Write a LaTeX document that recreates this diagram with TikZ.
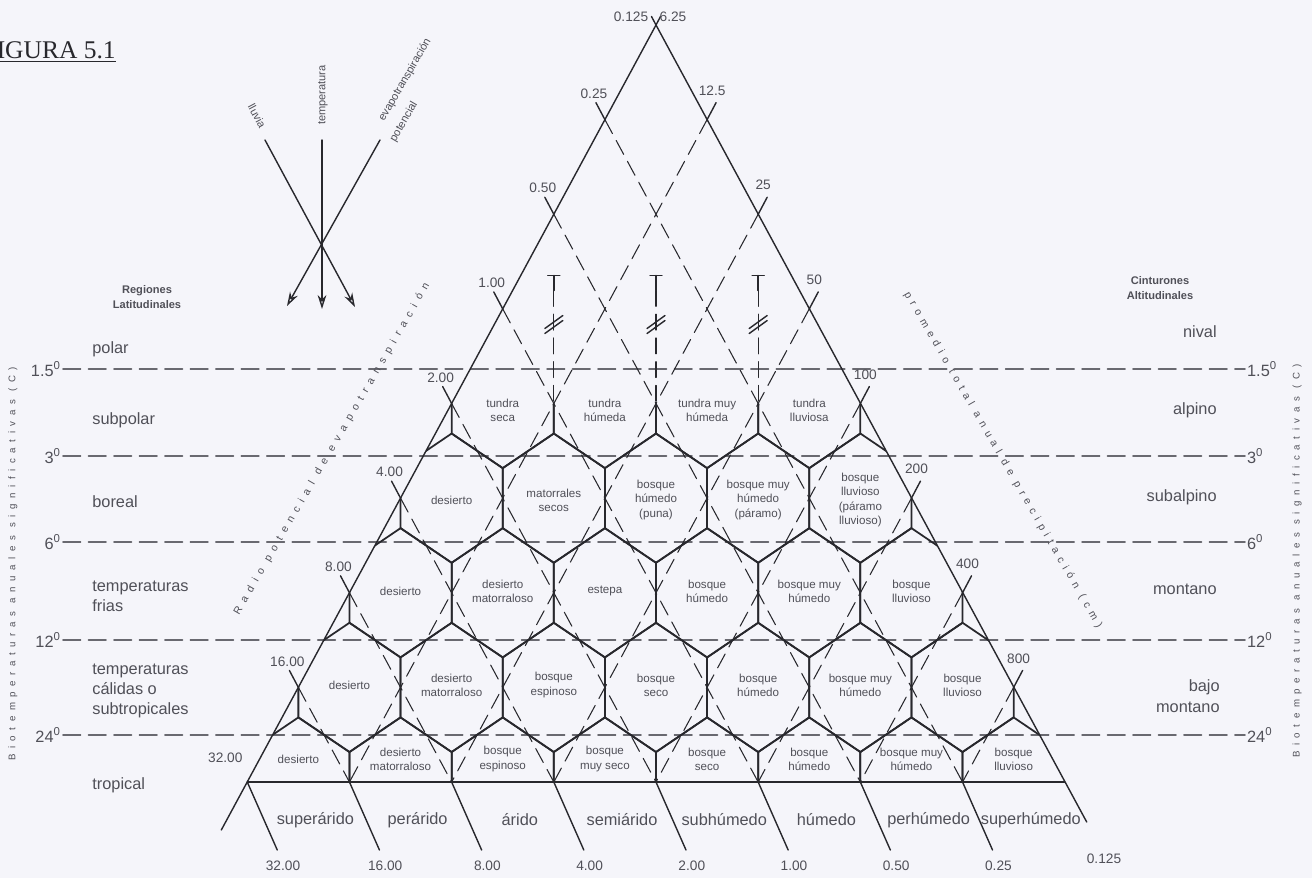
\documentclass[tikz,border=0pt]{standalone}
\usepackage{fontspec}
\setmainfont{Liberation Sans}
\newfontfamily\titlefont{Liberation Serif}
\newfontfamily\spaceda[LetterSpace=58]{Liberation Sans}
\newfontfamily\spacedb[LetterSpace=50]{Liberation Sans}
\usetikzlibrary{arrows.meta}
\definecolor{paper}{RGB}{245,245,250}
\definecolor{ink}{RGB}{40,40,45}
\definecolor{txt}{RGB}{80,80,88}
\definecolor{tgray}{RGB}{105,105,112}
\tikzset{
  sideline/.style={draw=ink, line width=0.8pt},
  hexedge/.style={draw=ink, line width=1pt},
  gridline/.style={draw=ink, line width=0.6pt, dash pattern=on 9pt off 4.5pt},
  templine/.style={draw=tgray, line width=0.9pt, dash pattern=on 10pt off 4.5pt},
  carrow/.style={draw=ink, line width=0.8pt, -{Stealth[open,length=8pt,width=5pt]}},
  zona/.style={text=txt, align=center, inner sep=0pt, font=\fontsize{6.6}{8}\selectfont},
  zonalat/.style={text=txt, align=left, inner sep=0pt, font=\fontsize{9.3}{11.6}\selectfont},
  valor/.style={text=txt, inner sep=0pt, font=\fontsize{7.8}{9}\selectfont},
  grado/.style={text=txt, inner sep=1pt, font=\fontsize{9.3}{11}\selectfont},
  cabeza/.style={text=txt, align=center, inner sep=0pt, font=\bfseries\fontsize{6.3}{8.3}\selectfont},
  brujula/.style={text=txt, inner sep=0pt, font=\fontsize{6.3}{7.5}\selectfont},
}
\begin{document}
\begin{tikzpicture}[x=0.02cm, y=-0.02cm, line join=round, line cap=round]
	\def\xa{656} \def\ya{25} % vértice superior
	\def\hw{51.09} \def\rh{94.63} % medio paso y alto de fila
	\def\hd{30} \def\he{64.63} % hexágono
	\useasboundingbox (0,0) rectangle (1312,878);
	\fill[paper] (0,0) rectangle (1312,878);
	% puntos de la retícula
	\foreach \k in {0,...,8}
		\foreach \m in {0,...,\k}
			\coordinate (p-\k-\m) at ({\xa-\k*\hw+2*\hw*\m},{\ya+\k*\rh});
	\node[anchor=base east, inner sep=0pt, text=ink, font=\titlefont\fontsize{14.5}{16}\selectfont] (fig) at (116,59) {\underline{FIGURA 5.1}};
	% biotemperaturas
	\foreach \i/\tv/\yy in {1/1.5/369,2/3/456,3/6/542,4/12/640,5/24/735} {
		\node[grado, anchor=east] (tl-\i) at (63,\yy) {\tv\textsuperscript{0}};
		\node[grado, anchor=west] (tr-\i) at (1245,\yy) {\tv\textsuperscript{0}};
		\draw[templine] (tl-\i.east) -- (tr-\i.west);
	}
	% líneas de la retícula
	\foreach \k in {1,...,7} {
		\pgfmathtruncatemacro\r{8-\k}
		\draw[gridline] (p-\k-0) -- (p-8-\r);
		\draw[gridline] (p-\k-\k) -- (p-8-\k);
	}
	\foreach \m in {1,2,3} {
		\path (p-4-\m) ++(0,-128) coordinate (t-\m);
		\draw[sideline] (t-\m) ++(-6,0) -- ++(12,0);
		\draw[sideline] (t-\m) -- ++(0,15);
		\draw[gridline] (t-\m) ++(0,15) -- (p-4-\m);
		\draw[sideline] (t-\m) ++(-9,53) -- ++(18,-13);
		\draw[sideline] (t-\m) ++(-9,58) -- ++(18,-13);
	}
	% hexágonos
	\begin{scope}
		\clip (p-4-0) -- (p-4-4) -- (p-8-8) -- (p-8-0) -- cycle;
		\foreach \k in {4,...,8}
			\foreach \j in {1,...,\k} {
				\pgfmathsetmacro\cx{\xa-\k*\hw+2*\hw*\j-\hw}
				\pgfmathsetmacro\cy{\ya+\k*\rh}
				\draw[hexedge] ({\cx-\hw},{\cy-\hd}) -- (\cx,{\cy-\he}) -- ({\cx+\hw},{\cy-\hd})
					-- ({\cx+\hw},{\cy+\hd}) -- (\cx,{\cy+\he}) -- ({\cx-\hw},{\cy+\hd}) -- cycle;
			}
	\end{scope}
	% triángulo
	\path (p-8-0) ++(-26,48) coordinate (lx);
	\path (p-8-8) ++(22,40) coordinate (rx);
	\draw[sideline] (lx) -- (p-0-0) -- (rx);
	\draw[sideline] (p-0-0) -- ++(4.5,-8.5) (p-0-0) -- ++(-4.5,-8.5);
	\draw[sideline] (p-8-0) -- (p-8-8);
	\foreach \m in {0,...,7}
		\draw[sideline] (p-8-\m) -- ++(30,68);
	% escalas de los lados
	\node[valor] (ev-0) at (631,17) {0.125};
	\node[valor] (pp-0) at (673,17) {6.25};
	\foreach \k/\v in {1/0.25,2/0.50,3/1.00,4/2.00,5/4.00,6/8.00,7/16.00} {
		\draw[sideline] (p-\k-0) -- ++(-9,-17);
		\path (p-\k-0) ++(-11,-26) node[valor] (ev-\k) {\v};
	}
	\path (p-8-0) ++(-22,-24) node[valor] (ev-8) {32.00};
	\foreach \k/\v in {1/12.5,2/25,3/50,4/100,5/200,6/400,7/800} {
		\draw[sideline] (p-\k-\k) -- ++(9,-17);
		\path (p-\k-\k) ++(5,-29) node[valor] (pp-\k) {\v};
	}
	% zonas de vida
	\foreach \tx [count=\j] in {{tundra\\seca},{tundra\\húmeda},{tundra muy\\húmeda},{tundra\\lluviosa}}
		\node[zona] (z-4-\j) at ({\xa-4*\hw+2*\hw*\j-\hw},410) {\tx};
	\foreach \tx [count=\j] in {desierto,{matorrales\\secos},{bosque\\húmedo\\(puna)},{bosque muy\\húmedo\\(páramo)},{bosque\\lluvioso\\(páramo\\lluvioso)}}
		\node[zona] (z-5-\j) at ({\xa-5*\hw+2*\hw*\j-\hw},500) {\tx};
	\foreach \tx [count=\j] in {desierto,{desierto\\matorraloso},estepa,{bosque\\húmedo},{bosque muy\\húmedo},{bosque\\lluvioso}}
		\node[zona] (z-6-\j) at ({\xa-6*\hw+2*\hw*\j-\hw},591) {\tx};
	\foreach \tx [count=\j] in {desierto,{desierto\\matorraloso},{bosque\\espinoso},{bosque\\seco},{bosque\\húmedo},{bosque muy\\húmedo},{bosque\\lluvioso}}
		\node[zona] (z-7-\j) at ({\xa-7*\hw+2*\hw*\j-\hw},685) {\tx};
	\foreach \tx [count=\j] in {desierto,{desierto\\matorraloso},{bosque\\espinoso},{bosque\\muy seco},{bosque\\seco},{bosque\\húmedo},{bosque muy\\húmedo},{bosque\\lluvioso}}
		\node[zona] (z-8-\j) at ({\xa-8*\hw+2*\hw*\j-\hw},759) {\tx};
	% provincias de humedad
	\foreach \tx [count=\i from 0] in {superárido,perárido,árido,semiárido,subhúmedo,húmedo,perhúmedo,superhúmedo}
		\node[zonalat] (prov-\i) at ({315.4+102.2*\i},820) {\tx};
	\foreach \tx [count=\i from 0] in {32.00,16.00,8.00,4.00,2.00,1.00,0.50,0.25}
		\node[valor] (pb-\i) at ({283+102.2*\i},866) {\tx};
	\node[valor] (pb-8) at (1104,859) {0.125};
	% regiones y cinturones
	\node[cabeza] (rlat) at (147,297) {Regiones\\Latitudinales};
	\node[zonalat, anchor=west] (polar) at (92,349) {polar};
	\node[zonalat, anchor=west] (subpolar) at (92,420) {subpolar};
	\node[zonalat, anchor=west] (boreal) at (92,502) {boreal};
	\node[zonalat, anchor=west] (frias) at (92,596) {temperaturas\\frias};
	\node[zonalat, anchor=west] (calidas) at (92,691) {temperaturas\\cálidas o\\subtropicales};
	\node[zonalat, anchor=west] (tropical) at (92,785) {tropical};
	\node[cabeza] (calt) at (1160,288) {Cinturones\\Altitudinales};
	\node[zonalat, anchor=east, align=right] (nival) at (1217,332) {nival};
	\node[zonalat, anchor=east, align=right] (alpino) at (1217,410) {alpino};
	\node[zonalat, anchor=east, align=right] (subalpino) at (1217,497) {subalpino};
	\node[zonalat, anchor=east, align=right] (montano) at (1217,589) {montano};
	\node[zonalat, anchor=east, align=right] (bajo) at (1220,696) {bajo\\montano};
	% textos de los ejes
	\node[text=txt, rotate=90, inner sep=0pt, font=\spaceda\fontsize{5.5}{6}\selectfont] (bio-l) at (13,564) {Biotemperaturas anuales significativas (C)};
	\node[text=txt, rotate=90, inner sep=0pt, font=\spaceda\fontsize{5.5}{6}\selectfont] (bio-r) at (1297,561) {Biotemperaturas anuales significativas (C)};
	\node[text=txt, rotate=60, inner sep=0pt, font=\spaceda\fontsize{6}{7}\selectfont] (radio) at (332,449) {Radio potencial de evapotranspiración};
	\node[text=txt, rotate=-60, inner sep=0pt, font=\spacedb\fontsize{6}{7}\selectfont] (prom) at (1003,460) {promedio total anual de precipitación (cm)};
	% brújula
	\coordinate (ll-a) at (265,140); \coordinate (ll-b) at (355,307);
	\coordinate (tp-a) at (322,140); \coordinate (tp-b) at (322,309);
	\coordinate (ev-a) at (380,140); \coordinate (ev-b) at (287,306);
	\draw[carrow] (ll-a) -- (ll-b);
	\draw[carrow] (tp-a) -- (tp-b);
	\draw[carrow] (ev-a) -- (ev-b);
	\node[brujula, rotate=-62] (lluvia) at (257,116) {lluvia};
	\node[brujula, rotate=90] (temp) at (323,95) {temperatura};
	\node[brujula, rotate=60] (evap) at (405,80) {evapotranspiración};
	\node[brujula, rotate=60] (pot) at (404,122) {potencial};
\end{tikzpicture}
\end{document}
